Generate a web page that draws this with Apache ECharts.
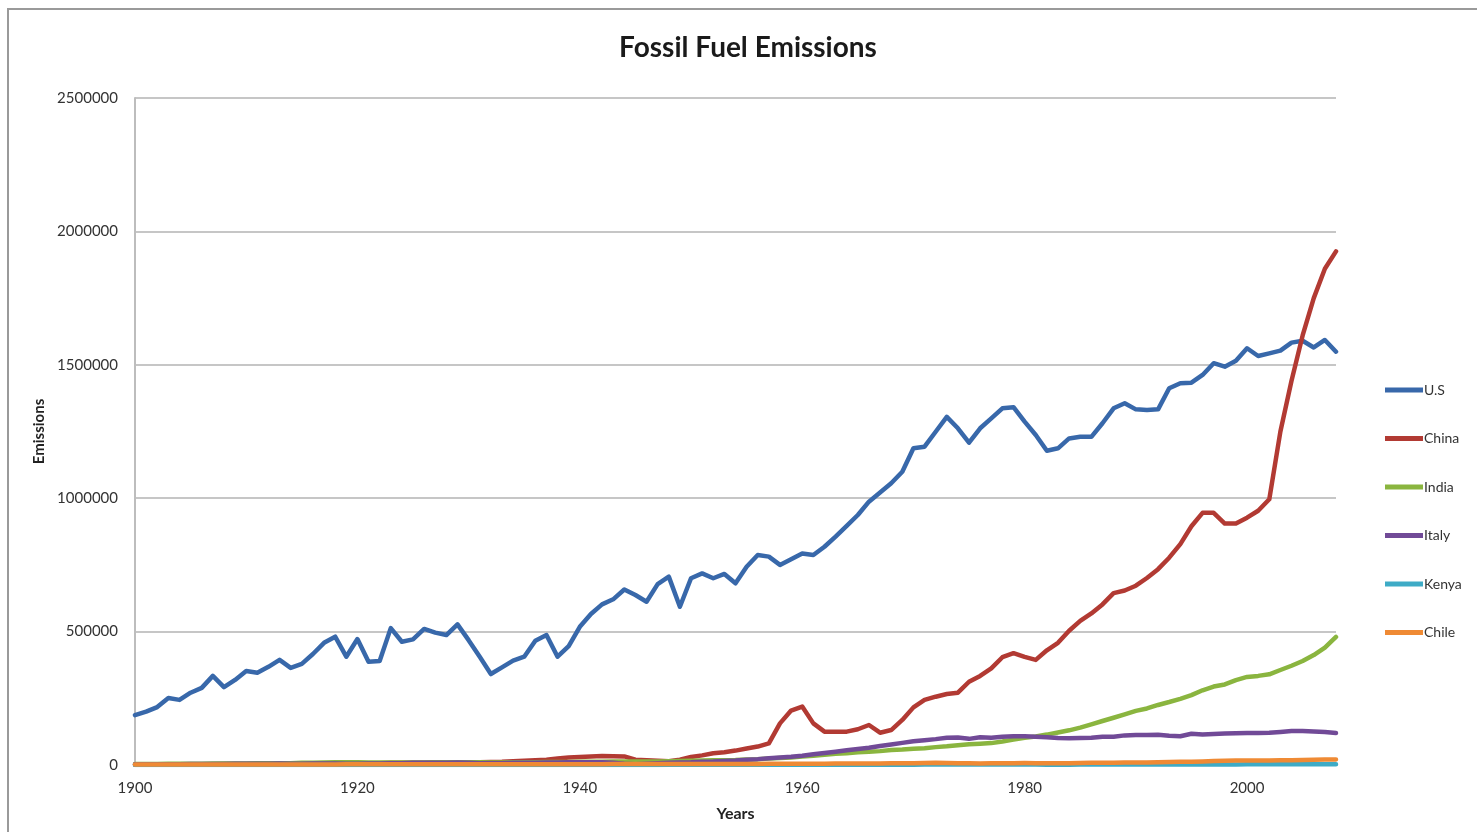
<!DOCTYPE html>
<html>
<head>
<meta charset="utf-8">
<script src="https://cdn.jsdelivr.net/npm/echarts@6/dist/echarts.min.js"></script>
<style>
html,body{margin:0;padding:0;background:#fff;}
#chart{width:1477px;height:832px;}
</style>
</head>
<body>
<div id="chart"></div>
<script>
// Years (category axis)
const years = [
 "1900","1901","1902","1903","1904","1905","1906","1907","1908","1909",
 "1910","1911","1912","1913","1914","1915","1916","1917","1918","1919",
 "1920","1921","1922","1923","1924","1925","1926","1927","1928","1929",
 "1930","1931","1932","1933","1934","1935","1936","1937","1938","1939",
 "1940","1941","1942","1943","1944","1945","1946","1947","1948","1949",
 "1950","1951","1952","1953","1954","1955","1956","1957","1958","1959",
 "1960","1961","1962","1963","1964","1965","1966","1967","1968","1969",
 "1970","1971","1972","1973","1974","1975","1976","1977","1978","1979",
 "1980","1981","1982","1983","1984","1985","1986","1987","1988","1989",
 "1990","1991","1992","1993","1994","1995","1996","1997","1998","1999",
 "2000","2001","2002","2003","2004","2005","2006","2007","2008"
];

// Series values in thousands (converted to units when building series)
const usK = [
 187,200,217,251,244,271,289,334,292,319,
 352,346,368,394,364,379,416,458,481,406,
 472,387,390,513,462,471,510,496,487,527,
 468,406,341,366,391,406,466,487,406,446,
 518,566,602,621,658,637,612,678,706,593,
 700,718,700,716,681,743,787,781,750,771,
 793,787,818,856,896,937,987,1021,1056,1099,
 1187,1193,1249,1305,1262,1208,1262,1299,1337,1341,
 1287,1237,1178,1187,1224,1230,1230,1281,1337,1356,
 1333,1331,1333,1412,1431,1433,1462,1506,1493,1515,
 1562,1533,1543,1553,1583,1590,1565,1593,1549
];
const chinaK = [
 1,1,1,2,2,2,3,3,4,4,
 4,5,5,6,5,5,6,6,7,7,
 7,7,7,8,8,8,8,9,9,10,
 10,10,11,12,14,16,18,20,24,28,
 30,32,34,33,32,20,18,16,14,20,
 30,36,44,48,54,62,69,81,156,204,
 219,156,125,125,125,134,150,121,131,169,
 216,244,256,266,271,312,334,362,404,419,
 405,394,430,458,503,540,568,602,644,654,
 672,701,734,777,828,895,945,945,905,905,
 927,953,996,1250,1440,1610,1750,1860,1925
];
const indiaK = [
 4,4,4,5,5,5,5,6,6,6,
 6,7,7,7,7,8,8,9,10,10,
 10,9,9,9,9,9,9,10,10,10,
 10,10,9,9,10,10,10,11,11,11,
 12,12,12,13,13,13,13,13,14,15,
 16,17,18,18,19,21,22,24,26,28,
 32,35,38,42,44,48,50,52,56,58,
 61,63,67,70,74,78,80,82,88,95,
 102,107,114,122,130,140,152,165,177,190,
 203,212,225,236,248,262,280,294,302,318,
 330,334,340,356,372,390,412,440,480
];
const italyK = [
 3,3,3,3,3,4,4,4,4,5,
 5,5,5,6,5,5,6,6,6,5,
 5,6,6,7,7,8,8,8,8,9,
 8,7,7,7,8,8,8,9,9,10,
 10,10,10,8,5,3,5,7,8,9,
 10,12,13,15,17,20,22,25,28,31,
 35,40,45,50,55,60,65,71,77,83,
 89,93,97,102,103,98,104,102,106,108,
 108,106,104,101,100,101,102,106,106,111,
 112,112,113,110,108,117,114,116,118,119,
 120,120,121,124,127,127,126,124,120
];
const kenyaK = [
 0,0,0,0,0,0,0,0,0,0,
 0,0,0,0,0,0,0,0,0,0,
 0.1,0.1,0.1,0.1,0.1,0.2,0.2,0.2,0.2,0.2,
 0.2,0.2,0.2,0.2,0.2,0.3,0.3,0.3,0.3,0.3,
 0.3,0.3,0.3,0.3,0.3,0.4,0.4,0.4,0.5,0.5,
 0.5,0.6,0.6,0.7,0.7,0.8,0.8,0.9,0.9,1.0,
 1.0,1.0,1.0,1.1,1.1,1.2,1.2,1.3,1.3,1.4,
 1.4,1.5,1.5,1.6,1.6,1.5,1.5,1.6,1.7,1.7,
 1.6,1.5,1.4,1.4,1.4,1.5,1.5,1.5,1.6,1.6,
 1.6,1.6,1.7,1.7,1.8,1.9,2.0,2.1,2.2,2.3,
 2.4,2.5,2.6,2.6,2.7,2.8,2.9,3.0,3.0
];
const chileK = [
 1.5,1.5,1.6,1.6,1.7,1.7,1.8,1.8,1.9,1.9,
 2.0,2.0,2.1,2.1,2.1,2.2,2.2,2.3,2.3,2.4,
 2.5,2.4,2.5,2.6,2.7,2.8,2.8,2.9,3.0,3.0,
 3.0,2.6,2.4,2.6,2.8,3.0,3.1,3.2,3.1,3.0,
 3.0,3.1,3.2,3.3,3.3,3.4,3.4,3.5,3.5,3.5,
 3.6,3.7,3.8,3.9,4.0,4.1,4.2,4.3,4.4,4.5,
 4.6,4.8,5.0,5.2,5.4,5.6,5.8,6.0,6.2,6.4,
 6.6,7.5,8.5,7.5,6.8,6.2,6.0,6.2,6.5,7.0,
 7.2,7.0,6.8,6.6,7.0,7.5,8.0,8.3,8.6,9.0,
 9.3,9.8,10.5,11.0,11.8,12.5,13.5,15.0,16.0,16.5,
 17.0,16.5,17.0,17.5,18.0,18.5,19.5,20.5,21.0
];

const seriesNames = ["U.S","China","India","Italy","Kenya","Chile"];
const seriesColors = ["#3868aa","#b23a33","#8ab53f","#714a97","#3eabc6","#ef8a34"];
const seriesValuesK = [usK, chinaK, indiaK, italyK, kenyaK, chileK];
const UNIT = 1000;

const yTicks = { min: 0, max: 2500000, interval: 500000 };

const FONT = 'Lato, "Open Sans", sans-serif';

const chart = echarts.init(document.getElementById('chart'), null, {renderer: 'canvas'});

const series = seriesNames.map((name, i) => ({
  name: name,
  type: 'line',
  data: seriesValuesK[i].map(v => v * UNIT),
  symbol: 'none',
  showSymbol: false,
  smooth: false,
  lineStyle: { color: seriesColors[i], width: 4.5, join: 'round', cap: 'round' },
  itemStyle: { color: seriesColors[i] },
  emphasis: { disabled: true },
  animation: false
}));

chart.setOption({
  animation: false,
  backgroundColor: '#ffffff',
  title: {
    text: 'Fossil Fuel Emissions',
    left: 743,
    top: 29,
    textAlign: 'center',
    textStyle: { fontFamily: FONT, fontWeight: 'bold', fontSize: 28, color: '#1a1a1a' }
  },
  graphic: [{
    type: 'rect',
    shape: { x: 8, y: 9, width: 1480, height: 840 },
    style: { fill: 'none', stroke: '#9a9a9a', lineWidth: 2 },
    silent: true
  }],
  legend: {
    orient: 'vertical',
    left: 1385,
    top: 383,
    padding: 0,
    itemWidth: 38,
    itemHeight: 14,
    itemGap: 34.5,
    data: seriesNames.map((n, i) => ({ name: n, icon: 'path://M0,0 L38,0 L38,5 L0,5 Z', itemStyle: { color: seriesColors[i] } })),
    textStyle: { fontFamily: FONT, fontSize: 14, color: '#333', padding: [0, 0, 0, -4] }
  },
  grid: { left: 135, right: 141, top: 98, bottom: 67, containLabel: false },
  xAxis: {
    type: 'category',
    data: years,
    boundaryGap: false,
    name: 'Years',
    nameLocation: 'middle',
    nameGap: 41,
    nameTextStyle: { fontFamily: FONT, fontWeight: 'bold', fontSize: 16, color: '#222' },
    axisLine: { lineStyle: { color: '#bdbdbd', width: 2 } },
    axisTick: { show: false },
    axisLabel: { interval: 19, margin: 16, fontFamily: FONT, fontSize: 15, color: '#333' },
    splitLine: { show: false }
  },
  yAxis: {
    type: 'value',
    min: yTicks.min,
    max: yTicks.max,
    interval: yTicks.interval,
    name: 'Emissions',
    nameLocation: 'middle',
    nameGap: 77,
    nameTextStyle: { fontFamily: FONT, fontWeight: 'bold', fontSize: 15, color: '#222' },
    axisLine: { show: true, lineStyle: { color: '#bdbdbd', width: 2 } },
    axisTick: { show: false },
    axisLabel: { margin: 17, fontFamily: FONT, fontSize: 15, color: '#333', formatter: v => String(v) },
    splitLine: { show: true, lineStyle: { color: '#c6c6c6', width: 2 } }
  },
  series: series
});
</script>
</body>
</html>
